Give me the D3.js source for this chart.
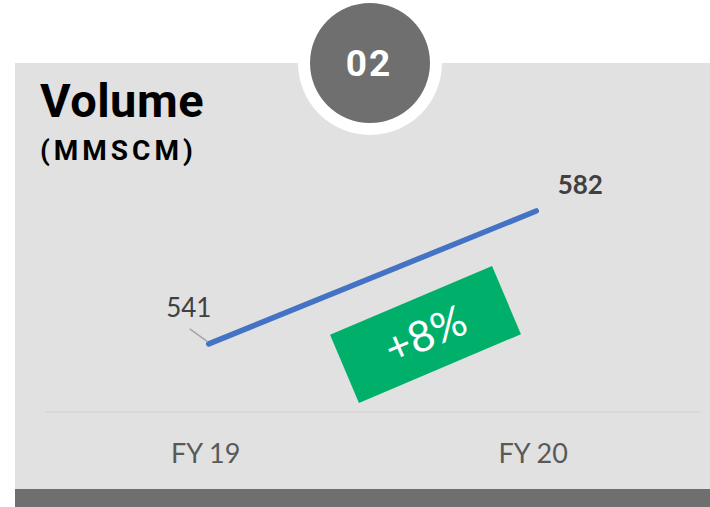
<!DOCTYPE html>
<html>
<head>
<meta charset="utf-8">
<script src="https://cdn.jsdelivr.net/npm/d3@7"></script>
<style>
    html, body { margin: 0; padding: 0; background: #ffffff; }
    svg { display: block; }
</style>
</head>
<body>
<div id="chart"></div>
<script>
const years = ["FY 19", "FY 20"];
const volumes = [541, 582];
const badgeNumber = "02";
const titleText = "Volume";
const unitText = "(MMSCM)";

const W = 710, H = 507;

const svg = d3.select("#chart")
    .append("svg")
    .attr("width", W)
    .attr("height", H);

// grey card + dark footer
svg.append("rect")
    .attr("x", 15).attr("y", 63)
    .attr("width", W - 15).attr("height", 426)
    .attr("fill", "#e1e1e1");

svg.append("rect")
    .attr("x", 15).attr("y", 489)
    .attr("width", W - 15).attr("height", H - 489)
    .attr("fill", "#6f6f6f");

// badge
svg.append("circle")
    .attr("cx", 370).attr("cy", 63).attr("r", 72)
    .attr("fill", "#ffffff");
svg.append("circle")
    .attr("cx", 370).attr("cy", 63).attr("r", 60)
    .attr("fill", "#6f6f6f");
svg.append("text")
    .attr("x", 369).attr("y", 76)
    .attr("text-anchor", "middle")
    .style("font-family", "Roboto, sans-serif")
    .style("font-weight", "bold")
    .style("font-size", "37px")
    .style("letter-spacing", "2px")
    .style("fill", "#ffffff")
    .text(badgeNumber);

// titles
svg.append("text")
    .attr("x", 40).attr("y", 117)
    .style("font-family", "Roboto, sans-serif")
    .style("font-weight", "bold")
    .style("font-size", "47px")
    .style("letter-spacing", "0.5px")
    .style("fill", "#000000")
    .text(titleText);
svg.append("text")
    .attr("x", 40).attr("y", 160)
    .style("font-family", "Roboto, sans-serif")
    .style("font-weight", "bold")
    .style("font-size", "28px")
    .style("letter-spacing", "4px")
    .style("fill", "#000000")
    .text(unitText);

// scales
const x = d3.scaleBand()
    .domain(years)
    .range([45, 700]);

const y = d3.scaleLinear()
    .domain([520, 590])
    .range([412, 185]);

const cx = d => x(d) + x.bandwidth() / 2;

// axis baseline
svg.append("line")
    .attr("x1", 45).attr("x2", 700)
    .attr("y1", y(520)).attr("y2", y(520))
    .attr("stroke", "#d6d6d6")
    .attr("stroke-width", 1.5);

// category labels
svg.selectAll(".cat")
    .data(years)
    .enter()
    .append("text")
    .attr("class", "cat")
    .attr("x", d => cx(d) - 3)
    .attr("y", 463)
    .attr("text-anchor", "middle")
    .style("font-family", "Lato, sans-serif")
    .style("font-size", "27px")
    .style("fill", "#595959")
    .text(d => d);

const pts = years.map((d, i) => ({ year: d, value: volumes[i] }));

// green change badge
const change = (volumes[1] - volumes[0]) / volumes[0];
const bx = 425.5, by = 334.5;
const badge = svg.append("g")
    .attr("transform", `translate(${bx},${by}) rotate(-23)`);
badge.append("rect")
    .attr("x", -88).attr("y", -37)
    .attr("width", 176).attr("height", 74)
    .attr("fill", "#00b06a");
badge.append("text")
    .attr("x", 0).attr("y", 15)
    .attr("text-anchor", "middle")
    .style("font-family", "Lato, sans-serif")
    .style("font-weight", "normal")
    .style("font-size", "43px")
    .style("fill", "#ffffff")
    .text("+" + d3.format(".0%")(change));

// line
const line = d3.line()
    .x(d => cx(d.year))
    .y(d => y(d.value));

svg.append("path")
    .datum(pts)
    .attr("fill", "none")
    .attr("stroke", "#4472c4")
    .attr("stroke-width", 5.5)
    .attr("stroke-linecap", "round")
    .attr("d", line);

// data labels
const p0 = pts[0], p1 = pts[1];
svg.append("line")
    .attr("x1", cx(p0.year) - 19).attr("y1", y(p0.value) - 15)
    .attr("x2", cx(p0.year) - 1).attr("y2", y(p0.value) - 2)
    .attr("stroke", "#a6a6a6")
    .attr("stroke-width", 1.5);

svg.append("text")
    .attr("x", cx(p0.year) - 20)
    .attr("y", y(p0.value) - 27)
    .attr("text-anchor", "middle")
    .style("font-family", "Lato, sans-serif")
    .style("font-size", "26px")
    .style("fill", "#404040")
    .text(p0.value);

svg.append("text")
    .attr("x", cx(p1.year) + 44)
    .attr("y", y(p1.value) - 17)
    .attr("text-anchor", "middle")
    .style("font-family", "Lato, sans-serif")
    .style("font-weight", "bold")
    .style("font-size", "26px")
    .style("fill", "#404040")
    .text(p1.value);
</script>
</body>
</html>
